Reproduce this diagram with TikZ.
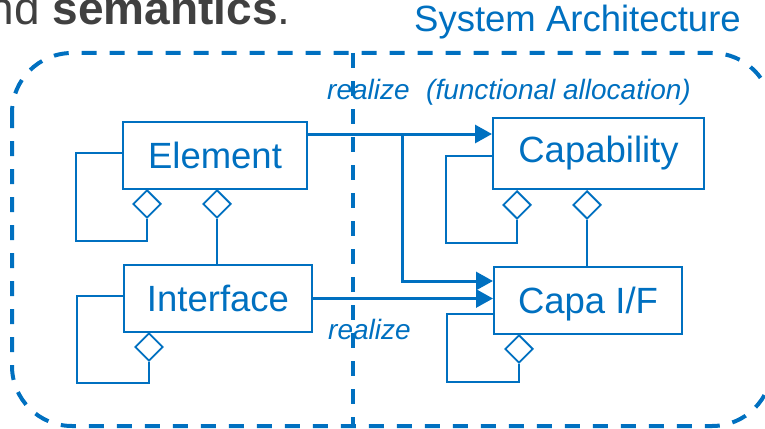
\documentclass[tikz,border=0pt]{standalone}
\usepackage{fontspec}
\setmainfont{Liberation Sans}
\usetikzlibrary{shapes.geometric,arrows.meta}
\definecolor{archblue}{HTML}{0070C0}
\definecolor{inkgray}{HTML}{404040}

\begin{document}
\begin{tikzpicture}[x=1pt,y=-1pt,
  classbox/.style={draw=archblue, line width=2pt, text=archblue,
    font=\fontsize{36.5}{40}\selectfont, inner sep=0pt, minimum height=67pt},
  agg/.style={diamond, draw=archblue, line width=1.8pt, fill=white,
    minimum width=28pt, minimum height=28pt, inner sep=0pt, anchor=north},
  link/.style={draw=archblue, line width=1.8pt},
  realizes/.style={draw=archblue, line width=3pt,
    -{Triangle[length=17pt,width=18pt]}},
  boundary/.style={draw=archblue, line width=4pt, dash pattern=on 15pt off 13pt},
  note/.style={text=archblue, font=\fontsize{28}{32}\selectfont\itshape,
    inner sep=0pt, anchor=base west},
]
\useasboundingbox (0,0) rectangle (765,428);

% heading line and title
\node[anchor=base west, inner sep=0pt, text=inkgray,
  font=\fontsize{46}{50}\selectfont] (lead) at (-37,25) {and \textbf{semantics}.};
\node[anchor=base west, inner sep=0pt, text=archblue,
  font=\fontsize{36.5}{40}\selectfont] (title) at (414,32) {System Architecture};

% system boundary and its split
\draw[boundary, rounded corners=60pt] (12,53) rectangle (772,426);
\draw[boundary] (353,53) -- (353,426);

% classes
\node[classbox, minimum width=184pt] (Element) at (215,155.5) {Element};
\node[classbox, minimum width=188pt] (Interface) at (218,298.5) {Interface};
\node[classbox, minimum width=211pt, minimum height=71pt] (Capability) at (598.5,153.5) {Capability};
\node[classbox, minimum width=188pt, text depth=0pt] (CapaIF) at (588,300.5) {Capa I/F};

% aggregation diamonds
\node[agg] (dE1) at (147,189) {};
\node[agg] (dE2) at (217,189) {};
\node[agg] (dI1) at (149,332) {};
\node[agg] (dC1) at (517,190) {};
\node[agg] (dC2) at (587,190) {};
\node[agg] (dF1) at (519,334) {};

% self aggregations
\draw[link] (dE1.south) |- (76,241) |- ([yshift=2.5pt]Element.west);
\draw[link] (dI1.south) |- (77,383) |- ([yshift=2.5pt]Interface.west);
\draw[link] (dC1.south) |- (446,243) |- ([yshift=-2.5pt]Capability.west);
\draw[link] (dF1.south) |- (447,382) |- ([yshift=-13.5pt]CapaIF.west);

% aggregations between classes
\draw[link] (dE2.south) -- (dE2.south |- Interface.north);
\draw[link] (dC2.south) -- (dC2.south |- CapaIF.north);

% realization arrows
\coordinate (fork) at (402,134);
\coordinate (lowin) at (402,281);
\draw[realizes] (Element.east |- fork) -- (Capability.west |- fork);
\draw[realizes] (fork) -- (lowin) -- (lowin -| CapaIF.west);
\draw[realizes] (Interface.east) -- (Interface.east -| CapaIF.west);

% labels
\node[note] (r1) at (327,99) {realize};
\node[note] (r2) at (426,99) {(functional allocation)};
\node[note] (r3) at (328,339) {realize};
\end{tikzpicture}
\end{document}
